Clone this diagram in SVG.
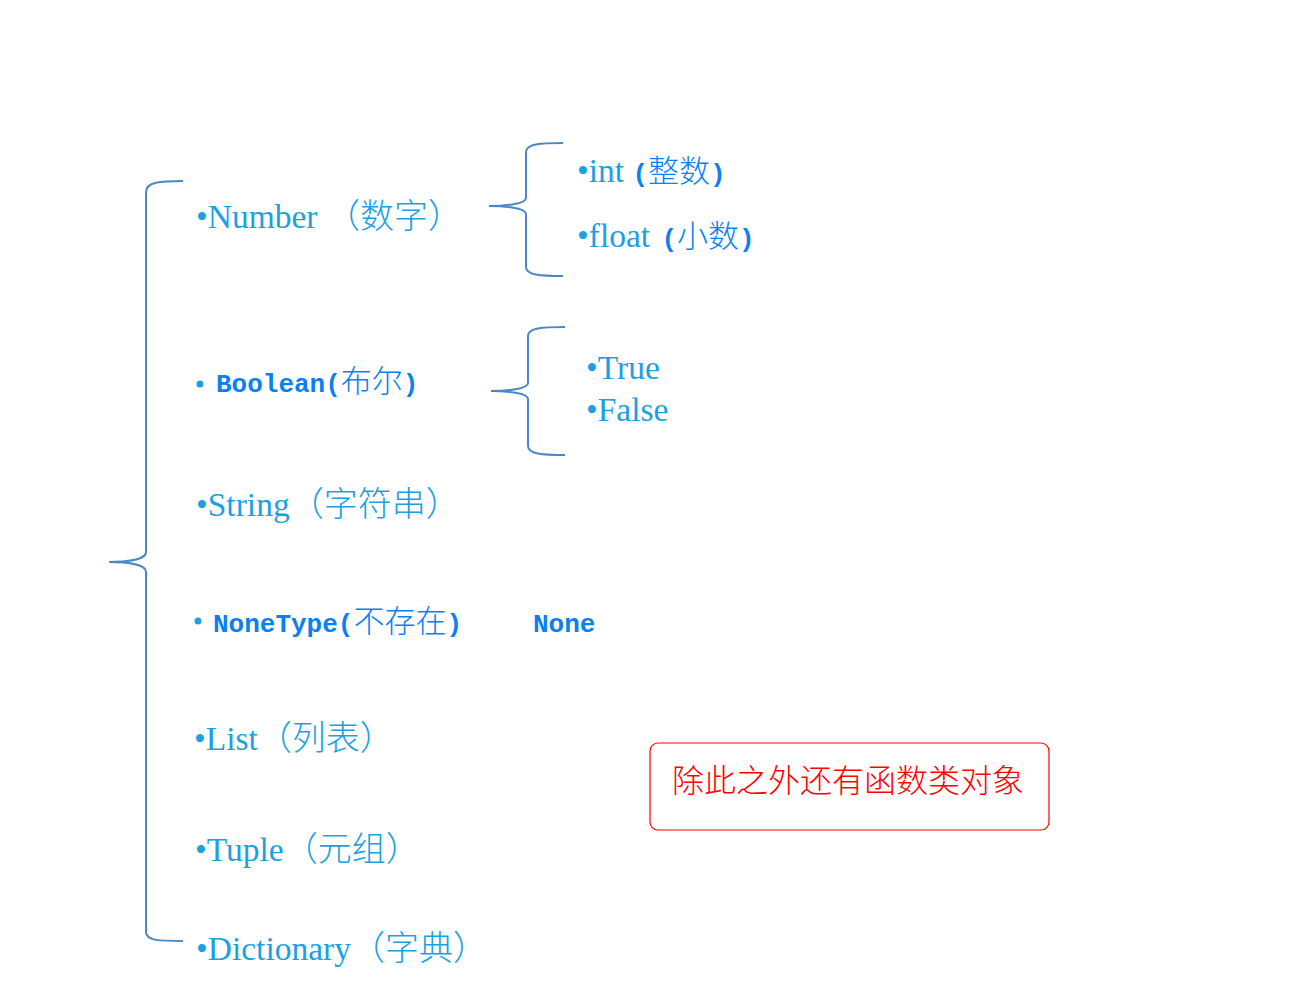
<svg xmlns="http://www.w3.org/2000/svg" width="1310" height="986" viewBox="0 0 1310 986">
<style>
.t{font-family:"Liberation Serif","Times New Roman","Noto Sans CJK SC",serif;font-size:33.5px;fill:#1ba1e2}
.c{font-family:"Noto Sans CJK SC",sans-serif;font-weight:300;font-size:34px;fill:#1ba1e2}
.m{font-family:"Liberation Mono","DejaVu Sans Mono",monospace;font-weight:bold;font-size:26px;fill:#0a80f5}
.mc{font-family:"Noto Sans CJK SC",sans-serif;font-weight:300;font-size:31px;fill:#0a80f5}
.br{fill:none;stroke:#4a86c8;stroke-width:2}
.dot{fill:#1ba1e2}
.note{font-family:"Noto Sans CJK SC",sans-serif;font-weight:300;font-size:32px;fill:#ff0000}
</style>
<rect width="1310" height="986" fill="#ffffff"/>
<g id="connectors">
<path class="br" d="M183,181 C160,181 146,182 146,192 L146,552 C146,560 125,562 109,562 C125,562 146,564 146,572 L146,932 C146,941 160,941 183,941"/>
<path class="br" d="M563,143 C540,143 526,144 526,152 L526,198 C526,204 505,206 489,206 C505,206 526,208 526,214 L526,267 C526,275 540,276 563,276"/>
<path class="br" d="M565,327 C542,327 528,328 528,336 L528,383 C528,389 507,391 491,391 C507,391 528,393 528,399 L528,446 C528,454 542,455 565,455"/>
</g>
<g id="number"><text class="t" x="196" y="228">•Number <tspan class="c">（数字）</tspan></text></g>
<g id="int"><text class="t" x="577" y="182">•int <tspan class="m">(</tspan><tspan class="mc">整数</tspan><tspan class="m">)</tspan></text></g>
<g id="float"><text class="t" x="577" y="247">•float <tspan class="m" dx="3">(</tspan><tspan class="mc">小数</tspan><tspan class="m">)</tspan></text></g>
<g id="boolean"><circle class="dot" cx="200" cy="384" r="3.5"/><text class="m" x="216" y="392">Boolean(<tspan class="mc">布尔</tspan>)</text></g>
<g id="true"><text class="t" x="586" y="379">•True</text></g>
<g id="false"><text class="t" x="586" y="421">•False</text></g>
<g id="string"><text class="t" x="196" y="516">•String<tspan class="c">（字符串）</tspan></text></g>
<g id="nonetype"><circle class="dot" cx="198" cy="621" r="3.5"/><text class="m" x="213" y="632">NoneType(<tspan class="mc">不存在</tspan>)</text></g>
<g id="none"><text class="m" x="533" y="632">None</text></g>
<g id="list"><text class="t" x="194" y="750">•List<tspan class="c">（列表）</tspan></text></g>
<g id="tuple"><text class="t" x="195" y="861">•Tuple<tspan class="c">（元组）</tspan></text></g>
<g id="dictionary"><text class="t" x="196" y="960">•Dictionary<tspan class="c">（字典）</tspan></text></g>
<g id="note"><rect x="650" y="743" width="399" height="87" rx="8" fill="none" stroke="#ff0000" stroke-width="1.2"/><text class="note" x="848" y="792" text-anchor="middle">除此之外还有函数类对象</text></g>
</svg>
